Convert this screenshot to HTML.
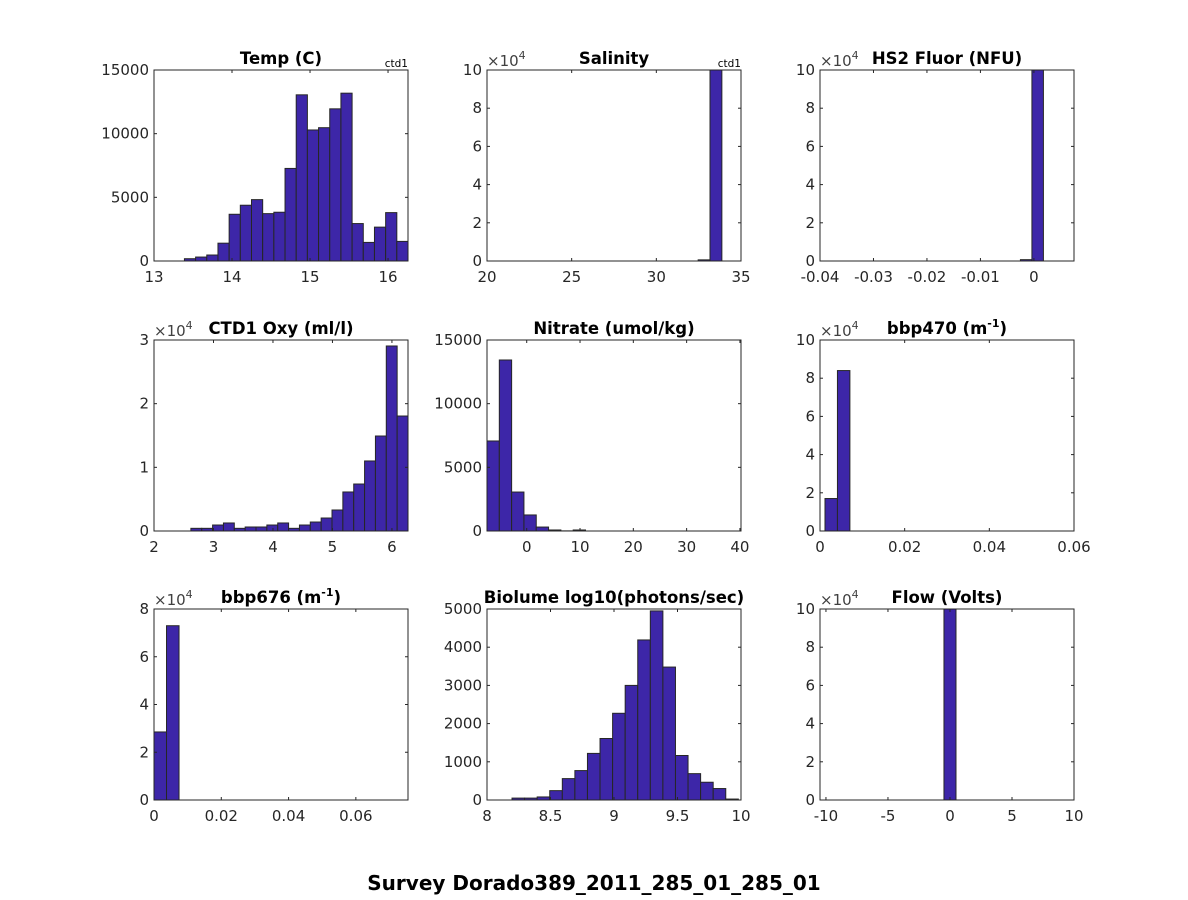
<!DOCTYPE html>
<html><head><meta charset="utf-8"><style>
html,body{margin:0;padding:0;background:#fff;}
svg{display:block;font-family:"DejaVu Sans","Liberation Sans",sans-serif;}
</style></head><body>
<svg id="fig" width="1188" height="900" viewBox="0 0 1188 900">
<rect width="1188" height="900" fill="#fff"/>
<text x="594" y="890" text-anchor="middle" font-size="20" font-weight="bold" fill="#000">Survey Dorado389_2011_285_01_285_01</text>
</svg>
<script>
// ---- data arrays ----
const tempStart = 13.39, tempWidth = 0.1433;
const tempCounts = [180,310,470,1400,3670,4380,4820,3720,3830,7270,13050,10290,10470,11950,13180,2940,1460,2660,3800,1540];
const tempXTicks = [13,14,15,16];
const tempYTicks = [0,5000,10000,15000];

const salStart = 32.47, salWidth = 0.7;
const salCounts = [600,102000];
const salXTicks = [20,25,30,35];

const hs2Start = -0.00252, hs2Width = 0.00215;
const hs2Counts = [700,102000];
const hs2XTicks = [-0.04,-0.03,-0.02,-0.01,0];

const oxyStart = 2.62, oxyWidth = 0.1825;
const oxyCounts = [420,420,940,1260,420,630,630,940,1260,420,940,1410,2040,3300,6130,7380,11000,14920,29060,18060];
const oxyXTicks = [2,3,4,5,6];
const oxyYTicks = [0,1,2,3];

const nitStart = -7.45, nitWidth = 2.31;
const nitCounts = [7070,13430,3060,1260,310,80,10,80];
const nitXTicks = [0,10,20,30,40];

const b470Start = 0.00118, b470Width = 0.00294;
const b470Counts = [17000,84000];
const b470XTicks = [0,0.02,0.04,0.06];

const b676Start = 0, b676Width = 0.00372;
const b676Counts = [28500,73000];
const b676XTicks = [0,0.02,0.04,0.06];
const b676YTicks = [0,2,4,6,8];

const bioStart = 8.197, bioWidth = 0.099;
const bioCounts = [50,50,80,245,560,770,1220,1610,2270,3000,4190,4950,3480,1165,690,465,300,25];
const bioXTicks = [8,8.5,9,9.5,10];
const bioYTicks = [0,1000,2000,3000,4000,5000];

const flowStart = -0.485, flowWidth = 0.97;
const flowCounts = [102000];
const flowXTicks = [-10,-5,0,5,10];

const e4Ticks = [0,2,4,6,8,10];

// ---- drawing ----
const NS = "http://www.w3.org/2000/svg";
const svg = document.getElementById('fig');
function mk(tag, attrs, parent){
  const el = document.createElementNS(NS, tag);
  for (const k in attrs) el.setAttribute(k, attrs[k]);
  (parent||svg).appendChild(el);
  return el;
}
const cols = [154,487,820], rows = [70,340,609], W = 254, H = 191;

function panel(o){
  const x0 = cols[o.c], y0 = rows[o.r];
  const g = mk('g', {});
  
  
  const sx = v => x0 + (v - o.xlim[0]) / (o.xlim[1] - o.xlim[0]) * W;
  const sy = v => y0 + H - (v / o.ymax) * H;
  o.counts.forEach((cnt, i) => {
    const a = o.start + i * o.width, b = a + o.width;
    const xa = Math.max(sx(a), x0), xb = Math.min(sx(b), x0 + W);
    const yt = sy(Math.min(cnt, o.ymax));
    const r = mk('rect', {x: xa, y: yt, width: Math.max(0, xb - xa), height: y0 + H - yt, fill: '#3d26a8', stroke: '#262626', 'stroke-width': 1}, g);
    
    
  });
  const box = mk('rect', {x: x0, y: y0, width: W, height: H, fill: 'none', stroke: '#262626', 'stroke-width': 1}, g);
  
  
  o.xt.forEach(t => {
    const x = sx(t);
    mk('line', {x1: x, y1: y0 + H, x2: x, y2: y0 + H - 3, stroke: '#262626'}, g);
    mk('line', {x1: x, y1: y0, x2: x, y2: y0 + 3, stroke: '#262626'}, g);
    const tx = mk('text', {x: x, y: y0 + H + 21, 'text-anchor': 'middle', 'font-size': 15, fill: '#262626'}, g);
    tx.textContent = String(t);
    
    
  });
  o.yt.forEach(t => {
    const y = sy(t * o.yscale);
    mk('line', {x1: x0, y1: y, x2: x0 + 3, y2: y, stroke: '#262626'}, g);
    mk('line', {x1: x0 + W, y1: y, x2: x0 + W - 3, y2: y, stroke: '#262626'}, g);
    const ty = mk('text', {x: x0 - 5, y: y + 5, 'text-anchor': 'end', 'font-size': 15, fill: '#262626'}, g);
    ty.textContent = String(t);
    
    
  });
  if (o.yscale !== 1) {
    const ex = mk('text', {x: x0, y: y0 - 4, 'font-size': 15, fill: '#404040'}, g);
    ex.innerHTML = '×10<tspan dy="-7" font-size="11">4</tspan>';
    
    
  }
  const ti = mk('text', {x: x0 + W / 2, y: y0 - 6, 'text-anchor': 'middle', 'font-size': 16.5, 'font-weight': 'bold', fill: '#000'}, g);
  ti.innerHTML = o.title;
  
  
  if (o.ctd) {
    const c = mk('text', {x: x0 + W, y: y0 - 3, 'text-anchor': 'end', 'font-size': 10.5, fill: '#000'}, g);
    c.textContent = 'ctd1';
    
    
  }
}
const sup = '<tspan dy="-7" font-size="11">-1</tspan><tspan dy="7">)</tspan>';
panel({name:'temp', r:0, c:0, title:'Temp (C)', ctd:true, xlim:[13,16.256], ymax:15000, yscale:1, start:tempStart, width:tempWidth, counts:tempCounts, xt:tempXTicks, yt:tempYTicks});
panel({name:'salinity', r:0, c:1, title:'Salinity', ctd:true, xlim:[20,35], ymax:100000, yscale:10000, start:salStart, width:salWidth, counts:salCounts, xt:salXTicks, yt:e4Ticks});
panel({name:'hs2-fluor', r:0, c:2, title:'HS2 Fluor (NFU)', xlim:[-0.04,0.0075], ymax:100000, yscale:10000, start:hs2Start, width:hs2Width, counts:hs2Counts, xt:hs2XTicks, yt:e4Ticks});
panel({name:'oxygen', r:1, c:0, title:'CTD1 Oxy (ml/l)', xlim:[2,6.27], ymax:30000, yscale:10000, start:oxyStart, width:oxyWidth, counts:oxyCounts, xt:oxyXTicks, yt:oxyYTicks});
panel({name:'nitrate', r:1, c:1, title:'Nitrate (umol/kg)', xlim:[-7.45,40.2], ymax:15000, yscale:1, start:nitStart, width:nitWidth, counts:nitCounts, xt:nitXTicks, yt:tempYTicks});
panel({name:'bbp470', r:1, c:2, title:'bbp470 (m'+sup, xlim:[0,0.06], ymax:100000, yscale:10000, start:b470Start, width:b470Width, counts:b470Counts, xt:b470XTicks, yt:e4Ticks});
panel({name:'bbp676', r:2, c:0, title:'bbp676 (m'+sup, xlim:[0,0.0755], ymax:80000, yscale:10000, start:b676Start, width:b676Width, counts:b676Counts, xt:b676XTicks, yt:b676YTicks});
panel({name:'biolume', r:2, c:1, title:'Biolume log10(photons/sec)', xlim:[8,10], ymax:5000, yscale:1, start:bioStart, width:bioWidth, counts:bioCounts, xt:bioXTicks, yt:bioYTicks});
panel({name:'flow', r:2, c:2, title:'Flow (Volts)', xlim:[-10.48,10], ymax:100000, yscale:10000, start:flowStart, width:flowWidth, counts:flowCounts, xt:flowXTicks, yt:e4Ticks});
</script>
</body></html>
